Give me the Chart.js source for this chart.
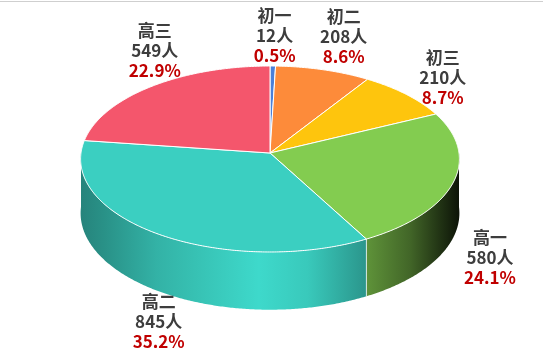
<!DOCTYPE html>
<html><head><meta charset="utf-8">
<script src="https://cdn.jsdelivr.net/npm/chart.js@4.4.1/dist/chart.umd.min.js"></script>
<style>
html,body{margin:0;padding:0;background:#fff;}
#wrap{position:relative;width:543px;height:361px;overflow:hidden;}
#topRule{position:absolute;left:0;top:1px;width:543px;height:0;border-top:1px solid #cfcfcf;}
canvas{position:absolute;left:0;top:0;}
</style></head><body>
<div id="wrap"><canvas id="c" width="543" height="361"></canvas><div id="topRule"></div></div>
<script>
// Student counts per grade
const grades = ['初一', '初二', '初三', '高一', '高二', '高三'];
const students = [12, 208, 210, 580, 845, 549];
const shareLabels = ['0.5%', '8.6%', '8.7%', '24.1%', '35.2%', '22.9%'];
const sliceColors = ['#4a80d9', '#fd8b3a', '#fec50d', '#83cc50', '#3bcfc1', '#f4566c'];

// Tilted-disc view (relative to the pie radius)
const view = { kx: 1.89, ky: 0.926, persp: 0.0645, depth: 0.54 };
// Side-wall shading across the pie's width: [fraction, brightness]
const wallShade = [[0, 0.64], [0.06, 0.7], [0.2, 0.86], [0.3, 0.93], [0.47, 1.05],
                   [0.6, 0.97], [0.75, 0.73], [0.87, 0.5], [0.95, 0.25], [1, 0.1]];
// Label placement around each slice's mid angle
const labelRadius = { x: 230, y: 118, drop: 60 };
const labelNudge = [[1, 1], [5, -4], [0, 2], [1, 8], [19, 11], [36, -14]];
const labelFont = 'bold 17px "Noto Sans CJK SC", "Microsoft YaHei", sans-serif';

function shade(hex, f) {
  const n = parseInt(hex.slice(1), 16);
  const c = [(n >> 16) & 255, (n >> 8) & 255, n & 255].map(v => Math.max(0, Math.min(255, Math.round(v * f))));
  return `rgb(${c[0]},${c[1]},${c[2]})`;
}

function project(el, theta, r, h) {
  const R = el.outerRadius;
  const s = Math.sin(theta), t = -Math.cos(theta) * r;
  const den = 1 - view.persp * t;
  return {
    x: el.x + R * view.kx * r * s / den,
    y: el.y + R * view.ky * t / den + h * R * view.depth / den
  };
}

function arcPoints(el, a1, a2, h) {
  const pts = [];
  const steps = Math.max(2, Math.ceil((a2 - a1) / (Math.PI / 360)));
  for (let i = 0; i <= steps; i++) pts.push(project(el, a1 + (a2 - a1) * i / steps, 1, h));
  return pts;
}

const pie3d = {
  id: 'pie3d',
  beforeDatasetsDraw(chart) {
    const ctx = chart.ctx;
    const arcs = chart.getDatasetMeta(0).data;
    const half = Math.PI / 2;
    ctx.save();

    // front side walls
    arcs.forEach((el, i) => {
      const s = el.startAngle + half, e = el.endAngle + half;
      const a1 = Math.max(s, half), a2 = Math.min(e, 3 * half);
      if (a2 <= a1) return;
      const top = arcPoints(el, a1, a2, 0);
      const bot = arcPoints(el, a1, a2, 1).reverse();
      const R = el.outerRadius * view.kx;
      const g = ctx.createLinearGradient(el.x - R, 0, el.x + R, 0);
      wallShade.forEach(([p, f]) => g.addColorStop(p, shade(sliceColors[i], f)));
      ctx.beginPath();
      top.concat(bot).forEach((p, k) => k ? ctx.lineTo(p.x, p.y) : ctx.moveTo(p.x, p.y));
      ctx.closePath();
      ctx.fillStyle = g;
      ctx.fill();
      // slice boundaries on the wall
      ctx.strokeStyle = 'rgba(255,255,255,0.6)';
      ctx.lineWidth = 1;
      [s, e].forEach(a => {
        if (a > half && a < 3 * half) {
          const p = project(el, a, 1, 0), q = project(el, a, 1, 1);
          ctx.beginPath(); ctx.moveTo(p.x, p.y); ctx.lineTo(q.x, q.y); ctx.stroke();
        }
      });
    });

    // top faces
    arcs.forEach((el, i) => {
      const s = el.startAngle + half, e = el.endAngle + half;
      const c = project(el, 0, 0, 0);
      ctx.beginPath();
      ctx.moveTo(c.x, c.y);
      arcPoints(el, s, e, 0).forEach(p => ctx.lineTo(p.x, p.y));
      ctx.closePath();
      ctx.fillStyle = sliceColors[i];
      ctx.fill();
      ctx.strokeStyle = '#ffffff';
      ctx.lineWidth = 1;
      ctx.lineJoin = 'round';
      ctx.stroke();
    });

    // data labels
    ctx.font = labelFont;
    ctx.textAlign = 'center';
    ctx.textBaseline = 'middle';
    arcs.forEach((el, i) => {
      const m = (el.startAngle + el.endAngle) / 2 + half;
      const front = Math.cos(m) < 0;
      const x = el.x + labelRadius.x * Math.sin(m) + labelNudge[i][0];
      const y = el.y - labelRadius.y * Math.cos(m) + (front ? labelRadius.drop : 0) + labelNudge[i][1];
      ctx.fillStyle = '#3d3d3d';
      ctx.fillText(grades[i], x, y - 20);
      ctx.fillText(students[i] + '人', x, y);
      ctx.fillStyle = '#c00000';
      ctx.fillText(shareLabels[i], x, y + 20);
    });

    ctx.restore();
    return false;
  }
};

new Chart(document.getElementById('c'), {
  type: 'pie',
  data: {
    labels: grades,
    datasets: [{ data: students, backgroundColor: sliceColors, borderWidth: 0, radius: 100 }]
  },
  options: {
    responsive: false,
    animation: false,
    devicePixelRatio: 1,
    radius: 100,
    rotation: 0,
    layout: { padding: { left: 0, right: 3, top: 0, bottom: 55 } },
    plugins: { legend: { display: false }, tooltip: { enabled: false } }
  },
  plugins: [pie3d]
});
</script>
</body></html>
